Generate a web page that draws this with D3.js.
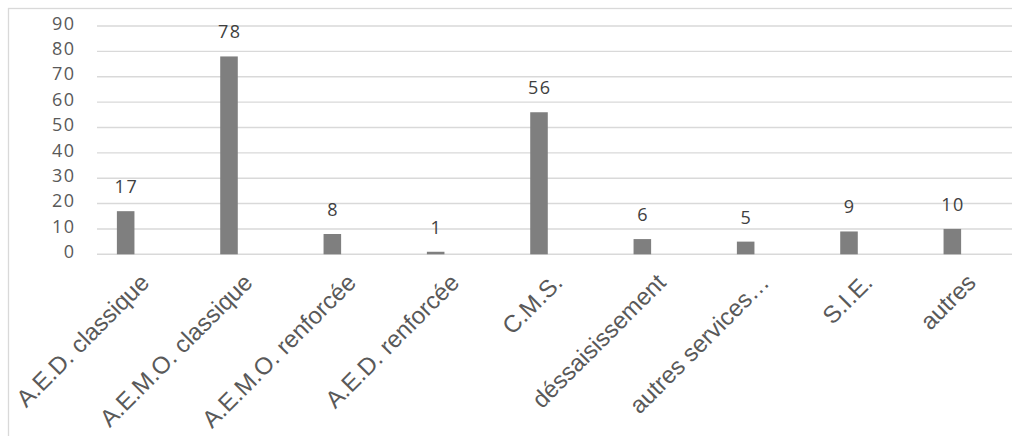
<!DOCTYPE html>
<html>
<head>
<meta charset="utf-8">
<script src="https://cdn.jsdelivr.net/npm/d3@7"></script>
<style>
  html, body { margin: 0; padding: 0; background: #ffffff; }
  svg { display: block; }
</style>
</head>
<body>
<svg id="chart" width="1012" height="436"></svg>
<script>
// Mesures par type d'intervention
const categories = [
  "A.E.D. classique",
  "A.E.M.O. classique",
  "A.E.M.O. renforcée",
  "A.E.D. renforcée",
  "C.M.S.",
  "déssaisissement",
  "autres services…",
  "S.I.E.",
  "autres"
];
const values = [17, 78, 8, 1, 56, 6, 5, 9, 10];
const yTicks = [0, 10, 20, 30, 40, 50, 60, 70, 80, 90];

const svg = d3.select("#chart");

// Plot geometry
const plotLeft = 97, plotRight = 1012;
const yTop = 26, yBottom = 254.3;

const y = d3.scaleLinear().domain([0, 90]).range([yBottom, yTop]);
const x = d3.scaleBand()
  .domain(categories)
  .range([74, 1004])
  .paddingInner(0.83)
  .paddingOuter(0.415);

const numFont = "'Open Sans', 'Noto Sans', sans-serif";

// Outer chart frame
svg.append("rect")
  .attr("x", 8.5).attr("y", 8.5)
  .attr("width", 1100).attr("height", 600)
  .attr("fill", "none")
  .attr("stroke", "#d9d9d9")
  .attr("stroke-width", 1.3);

// Horizontal gridlines
svg.append("g")
  .selectAll("line")
  .data(yTicks)
  .join("line")
  .attr("x1", plotLeft).attr("x2", plotRight)
  .attr("y1", d => y(d)).attr("y2", d => y(d))
  .attr("stroke", "#d9d9d9")
  .attr("stroke-width", 1.4);

// Y axis labels
const yAxis = d3.axisLeft(y).tickValues(yTicks).tickSize(0).tickPadding(0);
const yg = svg.append("g").attr("transform", "translate(75.5,-2.5)").call(yAxis);
yg.select(".domain").remove();
yg.selectAll("text")
  .attr("font-family", numFont)
  .attr("font-size", "18px")
  .attr("letter-spacing", "1.5px")
  .attr("fill", "#595959");

// Bars
svg.append("g")
  .selectAll("rect")
  .data(values)
  .join("rect")
  .attr("x", (d, i) => x(categories[i]))
  .attr("y", d => y(d))
  .attr("width", x.bandwidth())
  .attr("height", d => y(0) - y(d))
  .attr("fill", "#7f7f7f");

// Value labels above bars
svg.append("g")
  .selectAll("text")
  .data(values)
  .join("text")
  .attr("x", (d, i) => x(categories[i]) + x.bandwidth() / 2 + 0.75)
  .attr("y", d => y(d) - 18)
  .attr("text-anchor", "middle")
  .attr("font-family", numFont)
  .attr("font-size", "18px")
  .attr("letter-spacing", "1.5px")
  .attr("fill", "#404040")
  .text(d => d);

// Rotated category labels
svg.append("g")
  .selectAll("text")
  .data(categories)
  .join("text")
  .attr("transform", d => `translate(${x(d) + x.bandwidth() / 2 + 25},284) rotate(-45)`)
  .attr("text-anchor", "end")
  .attr("font-family", "'Liberation Sans', Arial, sans-serif")
  .attr("font-size", "24px")
  .attr("fill", "#595959")
  .text(d => d);
</script>
</body>
</html>
